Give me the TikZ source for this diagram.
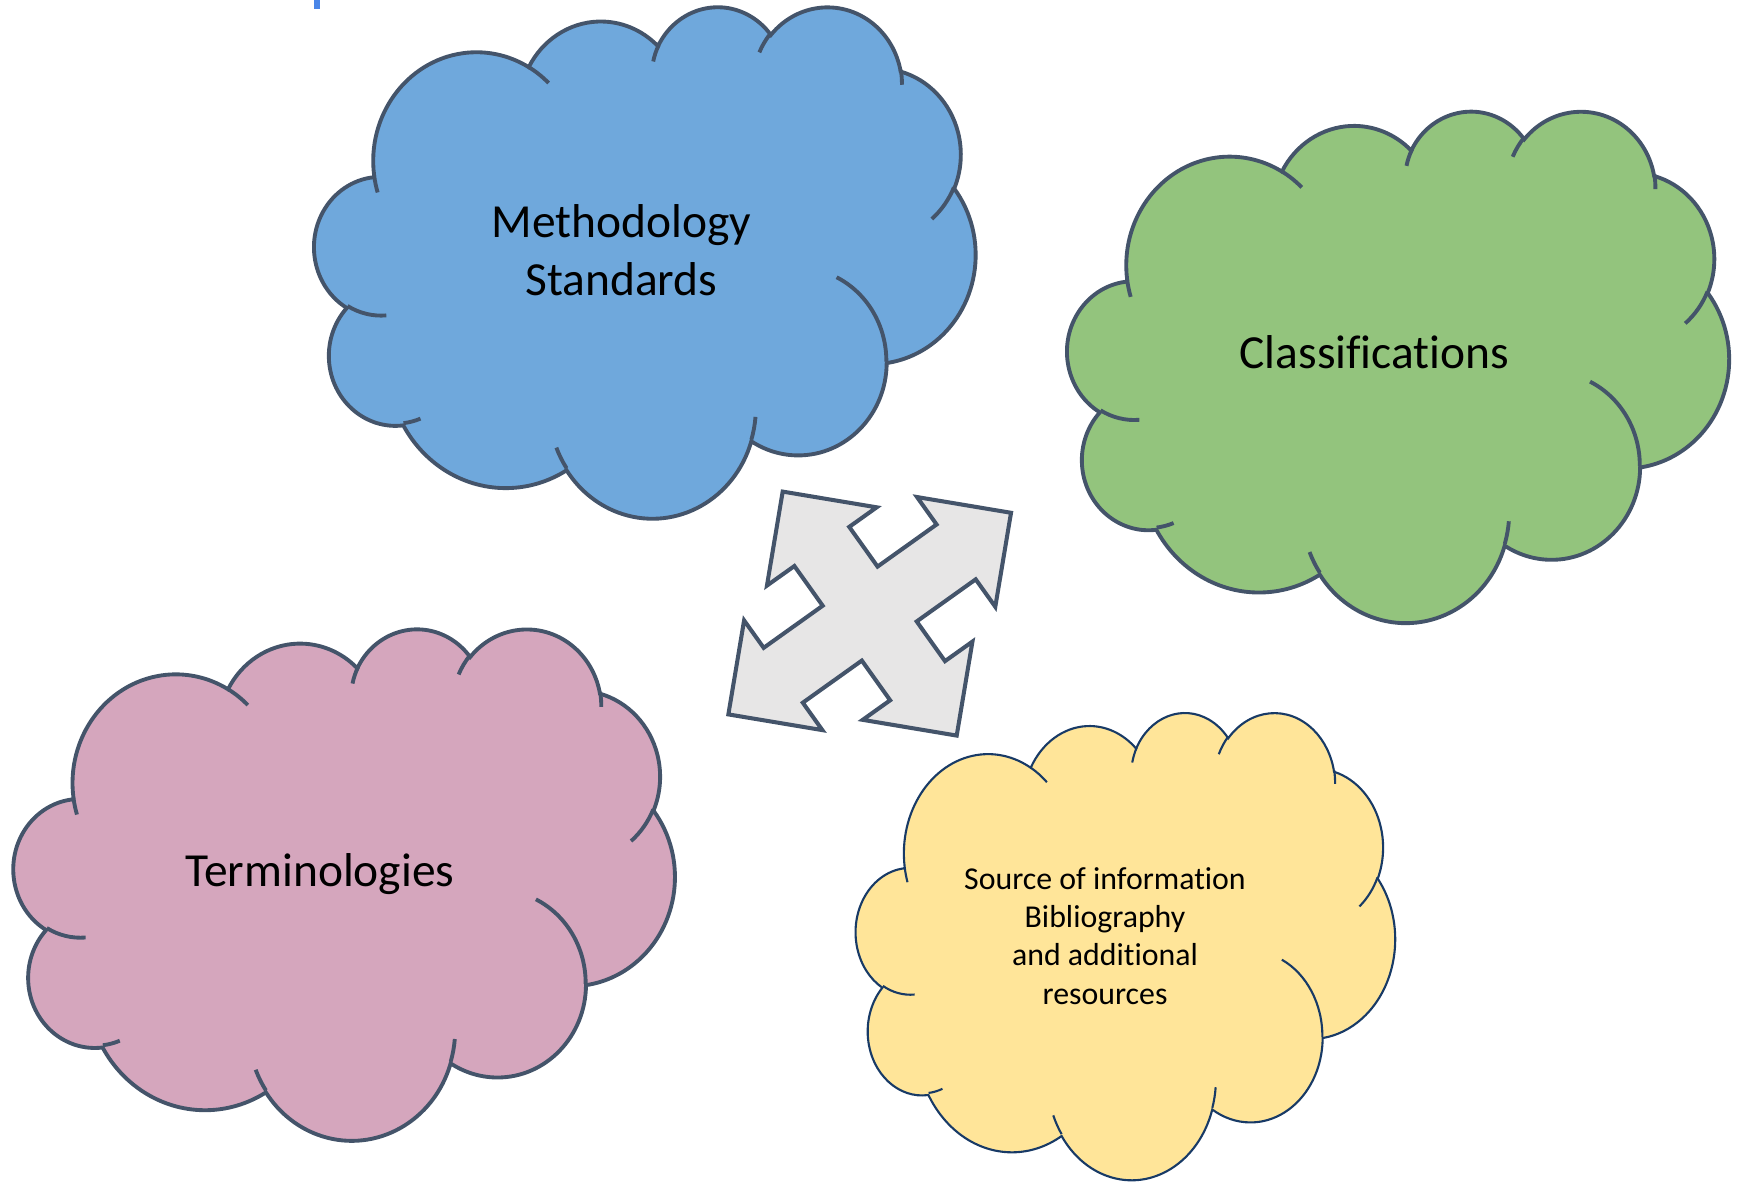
\documentclass[tikz,border=0pt]{standalone}
\usepackage{fontspec}
\setmainfont{Carlito}[Ligatures=NoCommon]
\usetikzlibrary{positioning}

\definecolor{slate}{HTML}{44546A}
\definecolor{inknavy}{RGB}{24,58,102}
\definecolor{skyblue}{HTML}{6FA8DC}
\definecolor{leafgreen}{HTML}{93C47D}
\definecolor{mauve}{HTML}{D5A6BD}
\definecolor{butter}{HTML}{FFE599}
\definecolor{arrowgray}{HTML}{E7E6E6}
\definecolor{cornflower}{HTML}{4A86E8}

% one puff: x radius, y radius, start angle, sweep (angles as seen, y down)
\newcommand\puff[4]{arc[x radius=#1, y radius=#2,
  start angle={atan2(#1*sin(#3),#2*cos(#3))},
  delta angle={mod(atan2(#1*sin(#3+#4),#2*cos(#3+#4))-atan2(#1*sin(#3),#2*cos(#3))+720,360)}]}

% cloud in a 43.2 x 43.2 box
\newcommand\cloudoutline[1]{%
  \path[#1] (3.9,14.37) \puff{6.753}{9.19}{-190.487}{123.781}
    \puff{5.333}{7.267}{-144.102}{89.945}
    \puff{4.365}{5.945}{-145.808}{99.723}
    \puff{4.857}{6.595}{-130.986}{117.242}
    \puff{5.333}{7.273}{-78.709}{109.027}
    \puff{6.775}{9.22}{-46.267}{130.269}
    \puff{5.785}{7.867}{0.625}{114.033}
    \puff{6.752}{9.215}{22.452}{115.173}
    \puff{7.72}{10.543}{66.243}{75.711}
    \puff{4.36}{5.918}{-274.942}{146.736}
    \puff{4.345}{5.945}{-246.829}{152.519} -- cycle;
  \draw[#1,fill=none]
    (4.693,26.177) \puff{4.345}{5.945}{86.742}{26.43}
    (6.928,34.899) \puff{4.36}{5.918}{73.61}{11.447}
    (16.478,39.09) \puff{6.752}{9.215}{137.624}{14.081}
    (28.827,34.751) \puff{6.752}{9.215}{6.453}{15.998}
    (34.129,22.954) \puff{5.785}{7.867}{-70.292}{70.917}
    (41.798,15.354) \puff{5.333}{7.273}{30.318}{27.752}
    (38.324,5.426) \puff{4.857}{6.595}{-13.744}{14.859}
    (29.078,3.952) \puff{4.857}{6.595}{-149.181}{18.195}
    (22.141,4.72) \puff{4.365}{5.945}{-163.494}{17.686}
    (14.0,5.192) \puff{6.753}{9.19}{-66.707}{12.319}
    (4.127,15.789) \puff{6.753}{9.19}{157.654}{11.858};
}

\begin{document}
\begin{tikzpicture}[x=0.01cm,y=-0.01cm,
  puffy/.style={draw=slate,line width=1.1pt},
  thinpuffy/.style={draw=inknavy,line width=0.6pt},
  bigtext/.style={font=\fontsize{13.5}{16.5}\selectfont},
  smalltext/.style={font=\fontsize{9.05}{10.9}\selectfont}]
\useasboundingbox (0,0) rectangle (1738,1183);
\fill[cornflower] (314,0) rectangle (320,9);

\begin{scope}[shift={(314.5,5.6)},x=0.152894cm,y=-0.118287cm]
  \cloudoutline{puffy,fill=skyblue}
\end{scope}
\begin{scope}[shift={(1067.5,110)},x=0.153009cm,y=-0.118287cm]
  \cloudoutline{puffy,fill=leafgreen}
\end{scope}
\begin{scope}[shift={(13.8,627.7)},x=0.152894cm,y=-0.118287cm]
  \cloudoutline{puffy,fill=mauve}
\end{scope}
\begin{scope}[shift={(856,711.5)},x=0.124699cm,y=-0.108056cm]
  \cloudoutline{thinpuffy,fill=butter}
\end{scope}

% four-way arrow
\begin{scope}[shift={(869.7,613.6)},rotate=35.5]
  \draw[slate,fill=arrowgray,line width=1.15pt]
    (173.6,0) -- (106.2,67.4) -- (106.2,33.7) -- (33.7,33.7)
    -- (33.7,82.45) -- (67.4,82.45) -- (0,149.85) -- (-67.4,82.45)
    -- (-33.7,82.45) -- (-33.7,33.7) -- (-106.2,33.7) -- (-106.2,67.4)
    -- (-173.6,0) -- (-106.2,-67.4) -- (-106.2,-33.7) -- (-33.7,-33.7)
    -- (-33.7,-82.45) -- (-67.4,-82.45) -- (0,-149.85) -- (67.4,-82.45)
    -- (33.7,-82.45) -- (33.7,-33.7) -- (106.2,-33.7) -- (106.2,-67.4)
    -- cycle;
\end{scope}

\node[bigtext,align=center] (methods) at (621.4,250) {Methodology\\Standards};
\node[bigtext,anchor=base] (classif) at (1374.4,369) {Classifications};
\node[bigtext,anchor=base] (terms) at (319.8,887) {Terminologies};
\node[smalltext,align=center] (sources) at (1105,936)
  {Source of information\\Bibliography\\and additional\\resources};
\end{tikzpicture}
\end{document}
